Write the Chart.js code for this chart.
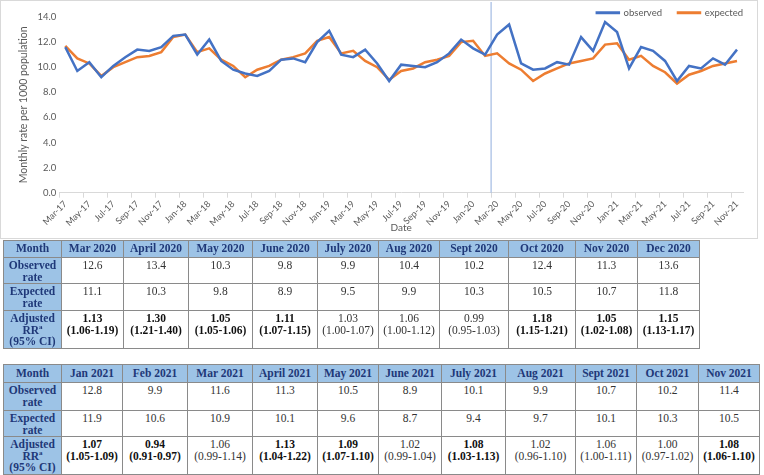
<!DOCTYPE html>
<html>
<head>
<meta charset="utf-8">
<script src="https://cdn.jsdelivr.net/npm/chart.js@4.4.1/dist/chart.umd.min.js"></script>
<style>
  body { margin: 0; background: #fff; width: 764px; height: 475px; position: relative; overflow: hidden; font-family: "Liberation Serif", "Times New Roman", serif; }
  #chartBox { position: absolute; left: 0; top: 0; width: 758px; height: 238px; }
  #frame { position: absolute; left: 0; top: 0; width: 756px; height: 237px; border: 1px solid #d9d9d9; pointer-events: none; }
  table { position: absolute; left: 3px; border-collapse: collapse; table-layout: fixed; }
  td { border: 1.5px solid #8a8a8a; text-align: center; vertical-align: top; font-size: 11.5px; line-height: 11.5px; color: #333; padding: 2px 0 0 0; overflow: hidden; }
  td.hd { background: #9dc3e6; color: #1f3878; font-weight: bold; }
  tr.head td { vertical-align: middle; padding: 0; }
  td.sig { font-weight: bold; color: #111; }
</style>
</head>
<body>
<div id="chartBox"><canvas id="rateChart"></canvas></div>
<div id="frame"></div>
<table id="table1" style="top:240px"></table>
<table id="table2" style="top:364px"></table>

<script>
// chart data
const months = [
  "Mar-17","Apr-17","May-17","Jun-17","Jul-17","Aug-17","Sep-17","Oct-17","Nov-17","Dec-17",
  "Jan-18","Feb-18","Mar-18","Apr-18","May-18","Jun-18","Jul-18","Aug-18","Sep-18","Oct-18","Nov-18","Dec-18",
  "Jan-19","Feb-19","Mar-19","Apr-19","May-19","Jun-19","Jul-19","Aug-19","Sep-19","Oct-19","Nov-19","Dec-19",
  "Jan-20","Feb-20","Mar-20","Apr-20","May-20","Jun-20","Jul-20","Aug-20","Sep-20","Oct-20","Nov-20","Dec-20",
  "Jan-21","Feb-21","Mar-21","Apr-21","May-21","Jun-21","Jul-21","Aug-21","Sep-21","Oct-21","Nov-21"
];
const observed = [
  11.6, 9.7, 10.4, 9.2, 10.1, 10.8, 11.4, 11.3, 11.6, 12.5,
  12.6, 11.0, 12.2, 10.5, 9.8, 9.5, 9.3, 9.7, 10.6, 10.7, 10.4, 12.0,
  12.9, 11.0, 10.8, 11.4, 10.3, 8.9, 10.2, 10.1, 10.0, 10.4, 11.1, 12.2,
  11.5, 11.0, 12.6, 13.4, 10.3, 9.8, 9.9, 10.4, 10.2, 12.4, 11.3, 13.6,
  12.8, 9.9, 11.6, 11.3, 10.5, 8.9, 10.1, 9.9, 10.7, 10.2, 11.4
];
const expected = [
  11.7, 10.7, 10.3, 9.3, 10.0, 10.4, 10.8, 10.9, 11.2, 12.4,
  12.6, 11.2, 11.5, 10.6, 10.1, 9.2, 9.8, 10.1, 10.6, 10.8, 11.1, 12.1,
  12.4, 11.1, 11.3, 10.5, 10.0, 9.0, 9.7, 9.9, 10.4, 10.6, 10.9, 12.0,
  12.1, 10.9, 11.1, 10.3, 9.8, 8.9, 9.5, 9.9, 10.3, 10.5, 10.7, 11.8,
  11.9, 10.6, 10.9, 10.1, 9.6, 8.7, 9.4, 9.7, 10.1, 10.3, 10.5
];
const yTicks = [0, 2, 4, 6, 8, 10, 12, 14];
const startMonth = "Mar-20";

// table data (pandemic period)
const tableMonths = [
  "Mar 2020","April 2020","May 2020","June 2020","July 2020","Aug 2020","Sept 2020","Oct 2020","Nov 2020","Dec 2020",
  "Jan 2021","Feb 2021","Mar 2021","April 2021","May 2021","June 2021","July 2021","Aug 2021","Sept 2021","Oct 2021","Nov 2021"
];
const adjustedRR = ["1.13","1.30","1.05","1.11","1.03","1.06","0.99","1.18","1.05","1.15",
  "1.07","0.94","1.06","1.13","1.09","1.02","1.08","1.02","1.06","1.00","1.08"];
const rrCI = ["1.06-1.19","1.21-1.40","1.05-1.06","1.07-1.15","1.00-1.07","1.00-1.12","0.95-1.03","1.15-1.21","1.02-1.08","1.13-1.17",
  "1.05-1.09","0.91-0.97","0.99-1.14","1.04-1.22","1.07-1.10","0.99-1.04","1.03-1.13","0.96-1.10","1.00-1.11","0.97-1.02","1.06-1.10"];

const startIndex = months.indexOf(startMonth);

// vertical line between Feb-20 and Mar-20
const startLine = {
  id: "startLine",
  beforeDatasetsDraw(chart) {
    const x = chart.scales.x.getPixelForValue(startIndex - 0.5);
    const yBottom = chart.scales.y.getPixelForValue(0);
    const c = chart.ctx;
    c.save();
    c.strokeStyle = "#a3bbe3";
    c.lineWidth = 1.2;
    c.beginPath();
    c.moveTo(x, 2);
    c.lineTo(x, yBottom);
    c.stroke();
    c.restore();
  }
};

// legend sits above the top of the plot, like Excel
const legendFit = {
  id: "legendFit",
  afterInit(chart) {
    const lg = chart.legend;
    if (!lg) return;
    const fit = lg.fit;
    lg.fit = function () { fit.call(this); this.height = 17; };
  },
  afterLayout(chart) {
    const lg = chart.legend;
    if (!lg) return;
    lg.top -= 8;
    lg.bottom += 6;
    lg.left += 16; lg.right += 16;
  }
};

Chart.defaults.font.family = "Lato";
Chart.defaults.color = "#595959";

const ctx = document.getElementById("rateChart").getContext("2d");
new Chart(ctx, {
  type: "line",
  data: {
    labels: months,
    datasets: [
      { label: "observed", data: observed, borderColor: "#4472c4", backgroundColor: "#4472c4", borderWidth: 2.5, pointRadius: 0, tension: 0 },
      { label: "expected", data: expected, borderColor: "#ed7d31", backgroundColor: "#ed7d31", borderWidth: 2.5, pointRadius: 0, tension: 0 }
    ]
  },
  options: {
    responsive: true,
    maintainAspectRatio: false,
    animation: false,
    layout: { padding: { left: 0, right: 15, top: 0, bottom: 0 } },
    plugins: {
      legend: {
        position: "top",
        align: "end",
        labels: { boxWidth: 22, boxHeight: 0.5, padding: 16, font: { size: 9.5 }, color: "#595959" }
      },
      tooltip: { enabled: false }
    },
    scales: {
      x: {
        offset: true,
        grid: {
          offset: true,
          drawOnChartArea: false,
          drawTicks: true,
          tickLength: 5,
          color: (c) => (c.index % 2 === 0 ? "#d9d9d9" : "rgba(0,0,0,0)")
        },
        border: { display: true, color: "#d9d9d9" },
        ticks: {
          autoSkip: false,
          minRotation: 45,
          maxRotation: 45,
          padding: 1,
          font: { size: 9 },
          callback: function (v, i) { return i % 2 === 0 ? this.getLabelForValue(v) : ""; }
        },
        title: { display: true, text: "Date", font: { size: 10 }, padding: { top: 0, bottom: 4 } },
        afterFit: (s) => { s.height = 45.3; }
      },
      y: {
        min: 0,
        max: 14,
        afterBuildTicks: (s) => { s.ticks = yTicks.map((v) => ({ value: v })); },
        grid: { display: false, drawTicks: false, tickLength: 0 },
        border: { display: false },
        ticks: { padding: 3, font: { size: 9.5 }, callback: (v) => v.toFixed(1) },
        title: { display: true, text: "Monthly rate per 1000 population", font: { size: 10.5 }, padding: { top: 17, bottom: 0 } },
        afterFit: (s) => { s.width = 59.3; }
      }
    }
  },
  plugins: [startLine, legendFit]
});

// tables below the chart
function buildTable(id, from, to) {
  const t = document.getElementById(id);
  const widths = id === "table1"
    ? [58, 62, 65, 64, 65, 61, 61, 69, 67, 62, 62]
    : [58, 61, 65, 65, 65, 61, 63, 64, 70, 61, 62, 61];
  const heights = id === "table1" ? [17, 26, 27, 38] : [18, 28, 26, 37];
  let html = "<colgroup>" + widths.map((w) => '<col style="width:' + w + 'px">').join("") + "</colgroup>";
  const idx = [];
  for (let i = from; i <= to; i++) idx.push(i);
  html += '<tr class="head" style="height:' + heights[0] + 'px"><td class="hd">Month</td>' +
    idx.map((i) => '<td class="hd">' + tableMonths[i] + "</td>").join("") + "</tr>";
  html += '<tr style="height:' + heights[1] + 'px"><td class="hd">Observed<br>rate</td>' +
    idx.map((i) => "<td>" + observed[startIndex + i].toFixed(1) + "</td>").join("") + "</tr>";
  html += '<tr style="height:' + heights[2] + 'px"><td class="hd">Expected<br>rate</td>' +
    idx.map((i) => "<td>" + expected[startIndex + i].toFixed(1) + "</td>").join("") + "</tr>";
  html += '<tr style="height:' + heights[3] + 'px"><td class="hd">Adjusted<br>RR<sup style="font-size:7px;line-height:0">a</sup><br>(95% CI)</td>' +
    idx.map((i) => {
      const [lo, hi] = rrCI[i].split("-").map(Number);
      const sig = lo > 1 || hi < 1;
      return "<td" + (sig ? ' class="sig"' : "") + ">" + adjustedRR[i] + "<br>(" + rrCI[i] + ")</td>";
    }).join("") + "</tr>";
  t.innerHTML = html;
}
buildTable("table1", 0, 9);
buildTable("table2", 10, 20);
</script>
</body>
</html>
